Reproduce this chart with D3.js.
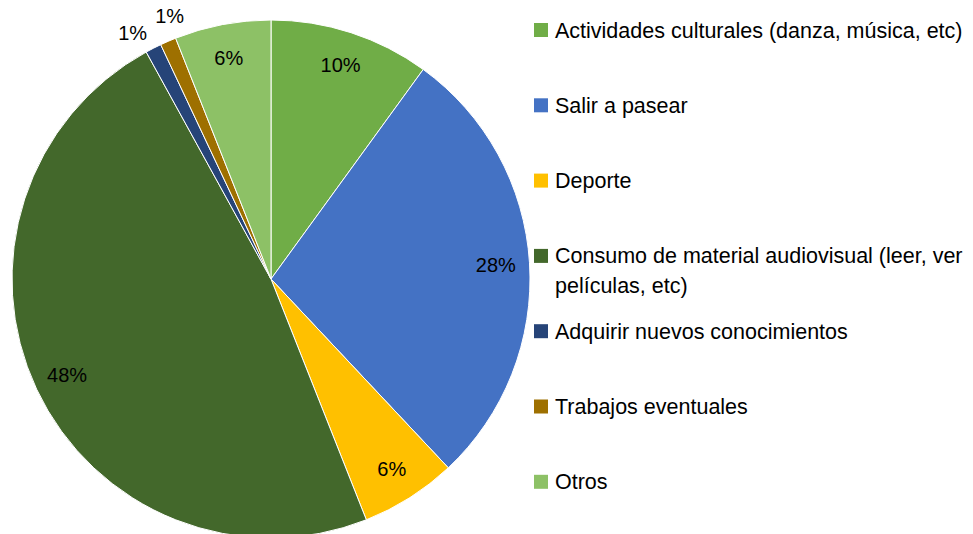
<!DOCTYPE html>
<html>
<head>
<meta charset="utf-8">
<script src="https://cdn.jsdelivr.net/npm/d3@7"></script>
<style>
  body { margin: 0; background: #fff; }
  svg { display: block; font-family: "Liberation Sans", Arial, sans-serif; }
</style>
</head>
<body>
<div id="chart"></div>
<script>
// categorías y valores (%)
const categories = [
  'Actividades culturales (danza, música, etc)',
  'Salir a pasear',
  'Deporte',
  'Consumo de material audiovisual (leer, ver películas, etc)',
  'Adquirir nuevos conocimientos',
  'Trabajos eventuales',
  'Otros'
];
const values = [10, 28, 6, 48, 1, 1, 6];
const colors = ['#70AD47', '#4472C4', '#FFC000', '#43682B', '#264478', '#9E7000', '#8DC166'];
// líneas del texto de la leyenda (salto manual como en el original)
const legendLines = [
  ['Actividades culturales (danza, música, etc)'],
  ['Salir a pasear'],
  ['Deporte'],
  ['Consumo de material audiovisual (leer, ver', 'películas, etc)'],
  ['Adquirir nuevos conocimientos'],
  ['Trabajos eventuales'],
  ['Otros']
];

const width = 973, height = 534;
const cx = 271, cy = 279, radius = 259;

const svg = d3.select('#chart').append('svg')
  .attr('width', width)
  .attr('height', height);

const data = categories.map((c, i) => ({ name: c, value: values[i], color: colors[i] }));

const pie = d3.pie().sort(null).value(d => d.value)(data);
const arc = d3.arc().innerRadius(0).outerRadius(radius);
const labelArc = d3.arc().innerRadius(radius * 0.87).outerRadius(radius * 0.87);

const g = svg.append('g').attr('transform', `translate(${cx},${cy})`);

g.selectAll('path')
  .data(pie)
  .enter()
  .append('path')
  .attr('d', arc)
  .attr('fill', d => d.data.color)
  .attr('stroke', '#fff')
  .attr('stroke-width', 1);

// etiquetas: dentro si el sector es grande, fuera si es pequeño
const smallOnes = pie.filter(d => d.data.value < 3);
const midA = d => (d.startAngle + d.endAngle) / 2;
const spread = 0.145; // separación angular para etiquetas exteriores

g.selectAll('text.lbl')
  .data(pie)
  .enter()
  .append('text')
  .attr('class', 'lbl')
  .attr('text-anchor', 'middle')
  .attr('dy', '0.35em')
  .attr('font-size', 20)
  .attr('fill', '#000')
  .attr('transform', d => {
    if (d.data.value >= 3) return `translate(${labelArc.centroid(d)})`;
    const k = smallOnes.indexOf(d);
    const mean = d3.mean(smallOnes, midA);
    const a = mean + (k - (smallOnes.length - 1) / 2) * spread;
    const r = radius * 1.09;
    return `translate(${r * Math.sin(a)},${-r * Math.cos(a)})`;
  })
  .text(d => d.data.value + '%');

// leyenda
const legendX = 534, legendY0 = 30, rowStep = 75.3, lineH = 29.5;
const legend = svg.append('g');
const rows = legend.selectAll('g')
  .data(data)
  .enter()
  .append('g')
  .attr('transform', (d, i) => `translate(${legendX},${legendY0 + i * rowStep})`);

rows.append('rect')
  .attr('x', 0)
  .attr('y', -7)
  .attr('width', 14)
  .attr('height', 14)
  .attr('fill', d => d.color);

rows.append('text')
  .attr('x', 21)
  .attr('font-size', 21.5)
  .attr('fill', '#000')
  .selectAll('tspan')
  .data((d, i) => legendLines[i])
  .enter()
  .append('tspan')
  .attr('x', 21)
  .attr('y', (d, j) => j * lineH)
  .attr('dy', '0.35em')
  .text(d => d);
</script>
</body>
</html>
